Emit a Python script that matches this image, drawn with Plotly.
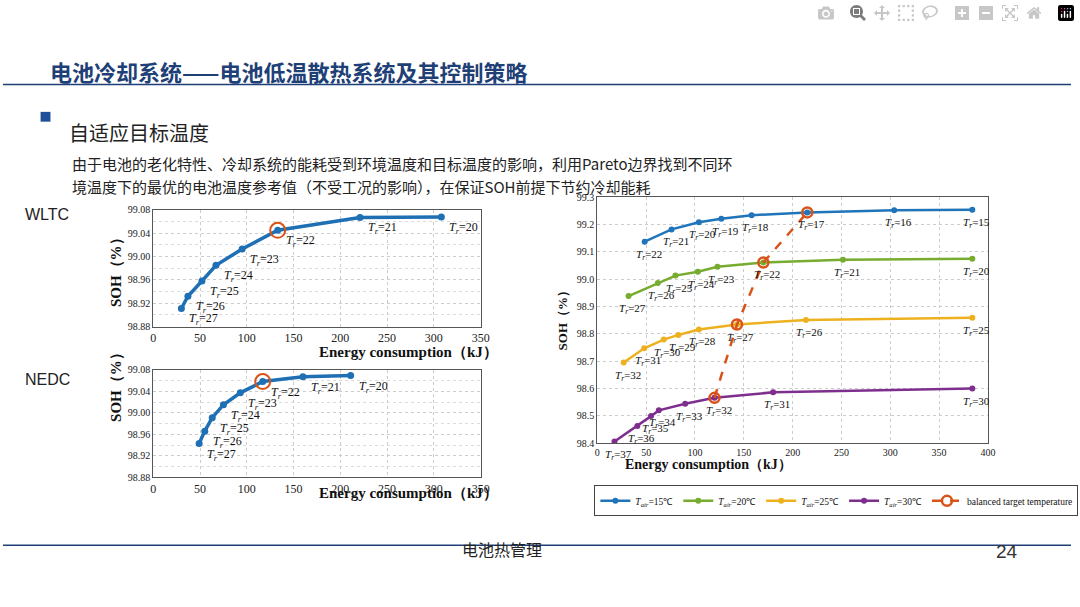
import plotly.graph_objects as go

# ---- data ----
wltc_x = [30, 37, 52, 67, 95, 133, 221, 308]
wltc_y = [98.911, 98.932, 98.958, 98.985, 99.013, 99.045, 99.067, 99.068]
wltc_tr = [27, 26, 25, 24, 23, 22, 21, 20]
nedc_x = [49, 55, 63, 75, 93, 117, 160, 211]
nedc_y = [98.943, 98.966, 98.991, 99.015, 99.037, 99.058, 99.067, 99.069]
nedc_tr = [27, 26, 25, 24, 23, 22, 21, 20]

air_names = ["15", "20", "25", "30"]
air_x = [
    [48.5, 76, 104, 127, 158, 215, 304, 384],
    [32, 62, 80, 103, 123, 170, 251.5, 384],
    [27, 48, 68, 83, 104, 143, 213.6, 384],
    [17.6, 41, 55, 63, 90, 120, 180, 384],
]
air_y = [
    [99.137, 99.182, 99.208, 99.221, 99.234, 99.244, 99.252, 99.254],
    [98.938, 98.986, 99.013, 99.027, 99.045, 99.061, 99.071, 99.075],
    [98.695, 98.747, 98.779, 98.796, 98.816, 98.834, 98.851, 98.859],
    [98.406, 98.463, 98.499, 98.520, 98.544, 98.566, 98.586, 98.600],
]
air_tr = [
    [22, 21, 20, 19, 18, 17, 16, 15],
    [27, 26, 25, 24, 23, 22, 21, 20],
    [32, 31, 30, 29, 28, 27, 26, 25],
    [37, 36, 35, 34, 33, 32, 31, 30],
]
bal_x = [120, 143, 170, 215]
bal_y = [98.566, 98.834, 99.061, 99.244]

colors = ["#1f74ba", "#77ac30", "#edb120", "#7e2f8e"]
orange = "#d95319"
serif = "Liberation Serif, Times New Roman, serif"
W, H = 1080, 607

def dom(px0, px1, py0, py1):
    return [px0 / W, px1 / W], [1 - py1 / H, 1 - py0 / H]

fig = go.Figure()

def axis_style(rng, dtick, minor=None, size=11):
    d = dict(range=rng, dtick=dtick, showline=True, mirror=True, linecolor="#555",
             linewidth=1, showgrid=True, gridcolor="#cccccc", griddash="dot",
             ticks="", zeroline=False, tickfont=dict(family=serif, size=size, color="#222"))
    if minor:
        d["minor"] = dict(dtick=minor, showgrid=True, gridcolor="#dddddd", griddash="dot")
    return d

small = [("x", "y", wltc_x, wltc_y, wltc_tr, 133, 99.045, (152, 483, 208, 327)),
         ("x2", "y2", nedc_x, nedc_y, nedc_tr, 117, 99.058, (152, 483, 371, 481))]
for i, (xa, ya, xs, ys, trs, hx, hy, box) in enumerate(small):
    fig.add_trace(go.Scatter(x=xs, y=ys, mode="lines+markers", xaxis=xa, yaxis=ya,
                             line=dict(color="#1f6fb5", width=3.5),
                             marker=dict(size=7, color="#1f6fb5"), showlegend=False))
    fig.add_trace(go.Scatter(x=[hx], y=[hy], mode="markers", xaxis=xa, yaxis=ya,
                             marker=dict(size=15, color="rgba(0,0,0,0)",
                                         line=dict(color=orange, width=2)), showlegend=False))
    for x, y, t in zip(xs, ys, trs):
        fig.add_annotation(x=x, y=y, xref=xa, yref=ya, text=f"<i>T<sub>r</sub></i>=%d" % t,
                           showarrow=False, xanchor="left", yanchor="top", xshift=6, yshift=-1,
                           font=dict(family=serif, size=12, color="#111"))
    xd, yd = dom(*box)
    key = "" if i == 0 else "2"
    fig.layout["xaxis" + key] = dict(domain=xd, anchor=ya, **axis_style([0, 350], 50, size=12))
    fig.layout["yaxis" + key] = dict(domain=yd, anchor=xa, tickformat=".2f",
                                     **axis_style([98.88, 99.08], 0.04, minor=0.02, size=10))
    fig.add_annotation(x=(box[0] + box[1]) / 2 / W, y=1 - (box[3] + 26) / H, xref="paper", yref="paper",
                       text="<b>Energy consumption（kJ）</b>", showarrow=False,
                       font=dict(family=serif, size=15, color="#111"))
    fig.add_annotation(x=104 / W, y=1 - (box[2] + box[3]) / 2 / H, xref="paper", yref="paper",
                       text="<b>SOH（%）</b>", textangle=-90, showarrow=False,
                       font=dict(family=serif, size=15, color="#111"))

for k in range(4):
    fig.add_trace(go.Scatter(x=air_x[k], y=air_y[k], mode="lines+markers", xaxis="x3", yaxis="y3",
                             name=f"<i>T<sub>air</sub></i>={air_names[k]}℃",
                             line=dict(color=colors[k], width=2.5),
                             marker=dict(size=6, color=colors[k])))
    for x, y, t in zip(air_x[k], air_y[k], air_tr[k]):
        fig.add_annotation(x=x, y=y, xref="x3", yref="y3", text=f"<i>T<sub>r</sub></i>=%d" % t,
                           showarrow=False, xanchor="center", yanchor="top", xshift=4, yshift=-4,
                           font=dict(family=serif, size=11, color="#111"))
fig.add_trace(go.Scatter(x=bal_x, y=bal_y, mode="lines+markers", xaxis="x3", yaxis="y3",
                         name="balanced target temperature",
                         line=dict(color=orange, width=2.5, dash="dash"),
                         marker=dict(size=10, color="rgba(0,0,0,0)", line=dict(color=orange, width=2.5))))
xd, yd = dom(601, 996, 195, 446)
fig.layout.xaxis3 = dict(domain=xd, anchor="y3", **axis_style([0, 400], 50, size=10))
fig.layout.yaxis3 = dict(domain=yd, anchor="x3", tickformat=".1f", **axis_style([98.4, 99.3], 0.1, size=10))
fig.add_annotation(x=800 / W, y=1 - 477 / H, xref="paper", yref="paper",
                   text="<b>Energy consumption（kJ）</b>", showarrow=False,
                   font=dict(family=serif, size=14, color="#111"))
fig.add_annotation(x=566 / W, y=1 - 318 / H, xref="paper", yref="paper",
                   text="<b>SOH（%）</b>", textangle=-90, showarrow=False,
                   font=dict(family=serif, size=13, color="#111"))

cn = "Noto Sans CJK SC"
fig.add_annotation(x=45 / W, y=1 - 48 / H, xref="paper", yref="paper", xanchor="left",
                   text="<b>电池冷却系统——电池低温散热系统及其控制策略</b>", showarrow=False,
                   font=dict(family=cn, size=22, color="#1f3f77"))
fig.add_annotation(x=65 / W, y=1 - 112 / H, xref="paper", yref="paper", xanchor="left",
                   text="自适应目标温度", showarrow=False, font=dict(family=cn, size=20, color="#222"))
fig.add_annotation(x=68 / W, y=1 - 148 / H, xref="paper", yref="paper", xanchor="left",
                   text="由于电池的老化特性、冷却系统的能耗受到环境温度和目标温度的影响，利用Pareto边界找到不同环",
                   showarrow=False, font=dict(family=cn, size=15, color="#222"))
fig.add_annotation(x=68 / W, y=1 - 171 / H, xref="paper", yref="paper", xanchor="left",
                   text="境温度下的最优的电池温度参考值（不受工况的影响），在保证SOH前提下节约冷却能耗",
                   showarrow=False, font=dict(family=cn, size=15, color="#222"))
fig.add_annotation(x=20 / W, y=1 - 213 / H, xref="paper", yref="paper", xanchor="left",
                   text="WLTC", showarrow=False, font=dict(family="Liberation Sans", size=16, color="#222"))
fig.add_annotation(x=20 / W, y=1 - 381 / H, xref="paper", yref="paper", xanchor="left",
                   text="NEDC", showarrow=False, font=dict(family="Liberation Sans", size=16, color="#222"))
fig.add_annotation(x=505 / W, y=1 - 568 / H, xref="paper", yref="paper",
                   text="电池热管理", showarrow=False, font=dict(family=cn, size=16, color="#222"))
fig.add_annotation(x=1028 / W, y=1 - 569 / H, xref="paper", yref="paper",
                   text="24", showarrow=False, font=dict(family="Liberation Sans", size=19, color="#333"))

shapes = [
    dict(type="line", xref="paper", yref="paper", x0=0, x1=1, y0=1 - 80 / H, y1=1 - 80 / H,
         line=dict(color="#1f3f77", width=1.5)),
    dict(type="line", xref="paper", yref="paper", x0=0, x1=1, y0=1 - 550 / H, y1=1 - 550 / H,
         line=dict(color="#1f3f77", width=1.5)),
    dict(type="rect", xref="paper", yref="paper", x0=38 / W, x1=48 / W, y0=1 - 118 / H, y1=1 - 108 / H,
         fillcolor="#1f4e9a", line=dict(width=0)),
]
fig.update_layout(
    width=W, height=H, margin=dict(l=0, r=0, t=0, b=0), plot_bgcolor="white", paper_bgcolor="white",
    shapes=shapes,
    legend=dict(orientation="h", x=598 / W, y=1 - 489 / H, xanchor="left", yanchor="top",
                bordercolor="#444", borderwidth=1, font=dict(family=serif, size=9.5, color="#111"),
                itemwidth=30, tracegroupgap=0),
)
fig.write_html("out.html",
               post_script="document.body.style.margin='0';document.body.style.overflow='hidden';")
